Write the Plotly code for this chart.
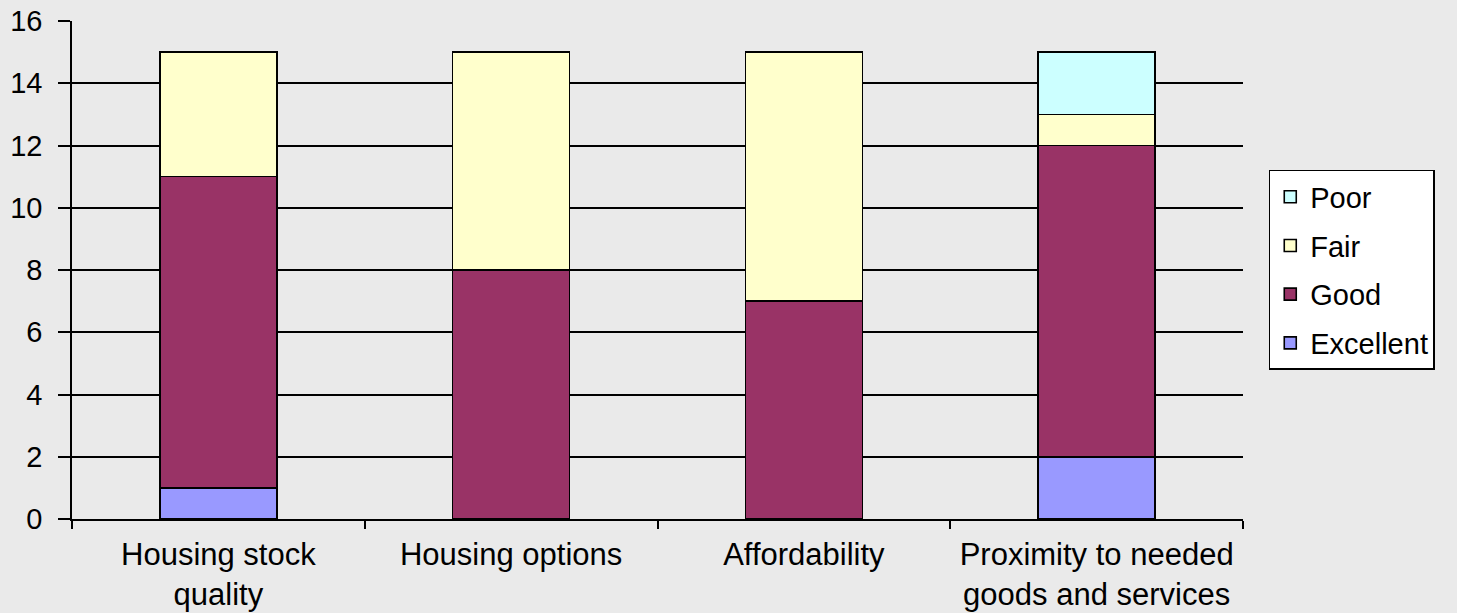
import plotly.graph_objects as go

categories = ["Housing stock<br>quality", "Housing options", "Affordability",
              "Proximity to needed<br>goods and services"]
excellent = [1, 0, 0, 2]
good = [10, 8, 7, 10]
fair = [4, 7, 8, 1]
poor = [0, 0, 0, 2]

series = [
    ("Excellent", excellent, "#9999FF", 4),
    ("Good", good, "#993366", 3),
    ("Fair", fair, "#FFFFCC", 2),
    ("Poor", poor, "#CCFFFF", 1),
]

fig = go.Figure()
for name, vals, col, rank in series:
    fig.add_trace(go.Bar(
        x=categories, y=vals, name=name,
        marker=dict(color=col, line=dict(color="black", width=1.6)),
        legendgroup=name, legendrank=rank,
    ))

fam = "Liberation Sans, Arial, sans-serif"
font = dict(family=fam, size=29, color="black")
xfont = dict(family=fam, size=31, color="black")

fig.update_layout(
    barmode="stack",
    bargap=0.6,
    width=1457, height=613,
    paper_bgcolor="#EAEAEA",
    plot_bgcolor="#EAEAEA",
    font=font,
    margin=dict(l=72, r=214, t=21, b=94, autoexpand=False),
    showlegend=True,
    legend=dict(
        x=1.022, y=0.701, xanchor="left", yanchor="top",
        bgcolor="white", bordercolor="black", borderwidth=1.5,
        traceorder="grouped", tracegroupgap=8, itemwidth=30,
        entrywidth=150, entrywidthmode="pixels",
        font=font,
    ),
    xaxis=dict(
        type="category", range=[-0.5, 3.5], automargin=False,
        showline=True, linecolor="black", linewidth=1.5,
        ticks="outside", tickson="boundaries", ticklen=8,
        tickcolor="black", tickwidth=1.5, ticklabelstandoff=7,
        showgrid=False, tickfont=xfont,
    ),
    yaxis=dict(
        range=[0, 16], dtick=2, tick0=0, automargin=False,
        showline=True, linecolor="black", linewidth=1.5,
        ticks="outside", ticklen=12, tickcolor="black", tickwidth=1.5,
        showgrid=True, gridcolor="black", gridwidth=1.5,
        zeroline=False, tickfont=font, ticklabelstandoff=10,
    ),
)

fig.write_html(
    "out.html",
    config={"displayModeBar": False},
    post_script="document.body.style.margin='0';document.body.style.background='#EAEAEA';document.body.style.overflow='hidden';",
)
